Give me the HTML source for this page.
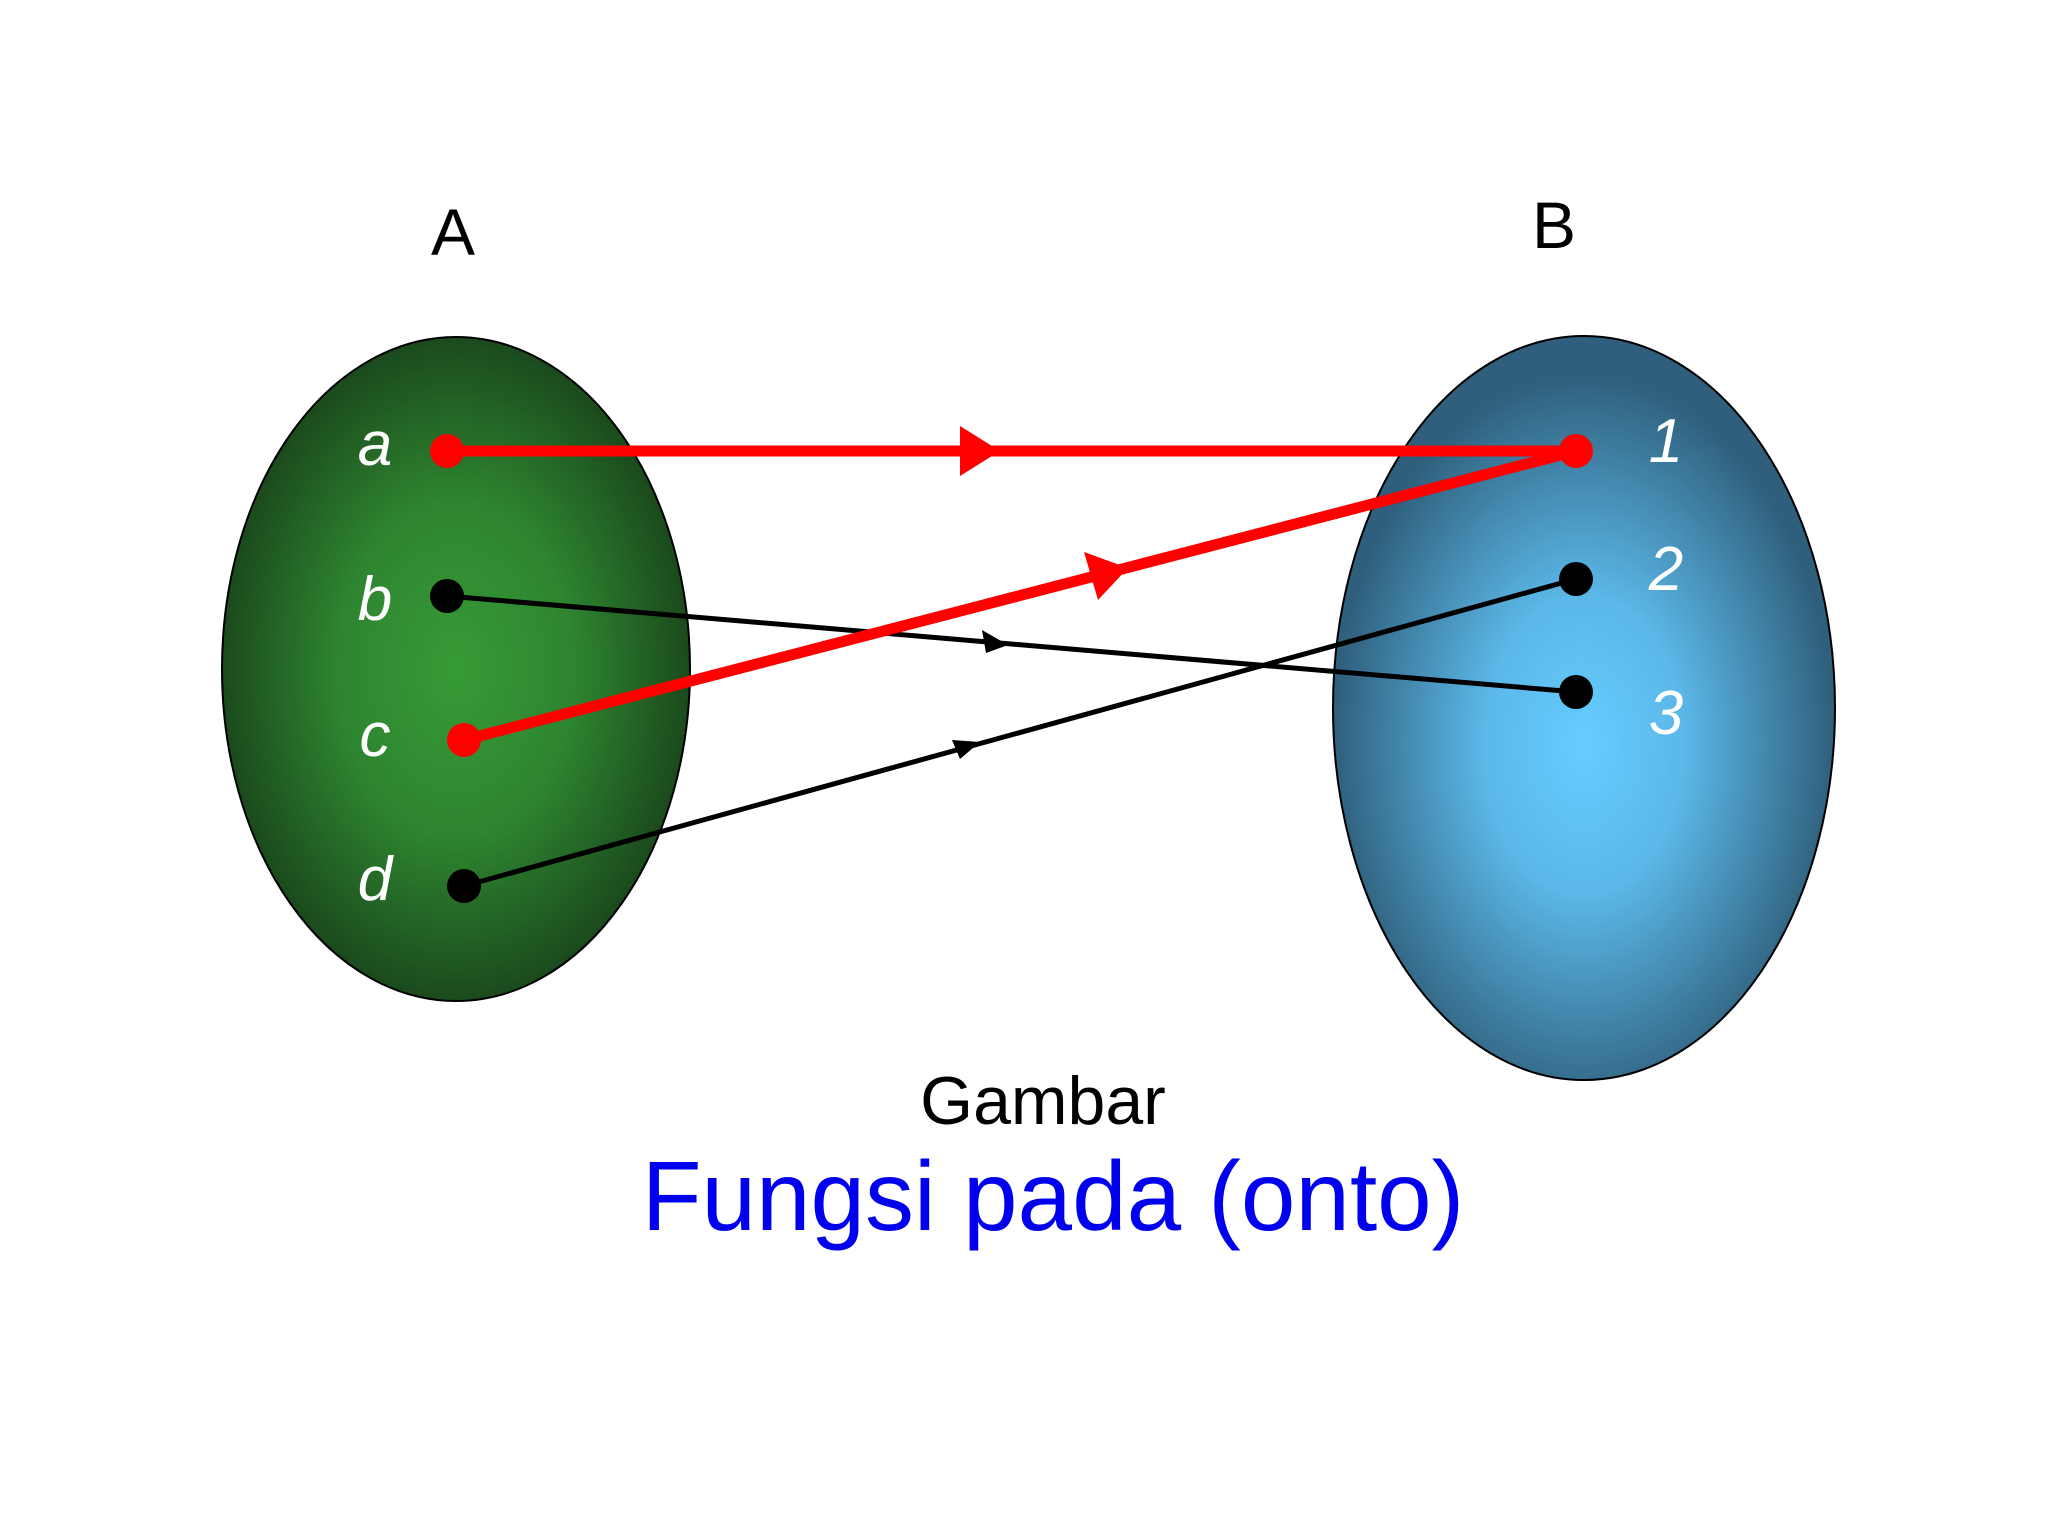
<!DOCTYPE html>
<html><head><meta charset="utf-8"><style>
html,body{margin:0;padding:0;background:#fff;}
svg{display:block;}
</style></head><body>
<svg width="2048" height="1536" viewBox="0 0 2048 1536" xmlns="http://www.w3.org/2000/svg" font-family="Liberation Sans, sans-serif">
<defs>
<radialGradient id="gA" cx="0.5" cy="0.5" r="0.5">
<stop offset="0" stop-color="#369b36"/><stop offset="0.5" stop-color="#2e8530"/><stop offset="1" stop-color="#1b4a1d"/>
</radialGradient>
<radialGradient id="gB" cx="0.5" cy="0.55" r="0.5">
<stop offset="0" stop-color="#66ccff"/><stop offset="0.4" stop-color="#5bb8e8"/><stop offset="1" stop-color="#2f5f7c"/>
</radialGradient>
</defs>
<ellipse cx="456" cy="669" rx="234" ry="332" fill="url(#gA)" stroke="#000" stroke-width="2"/>
<ellipse cx="1584" cy="708" rx="251" ry="372" fill="url(#gB)" stroke="#000" stroke-width="2"/>
<text x="453" y="255" font-size="66" text-anchor="middle">A</text>
<text x="1554" y="248" font-size="66" text-anchor="middle">B</text>
<g fill="#fff" font-size="62" font-style="italic" text-anchor="middle">
<text x="375" y="465">a</text><text x="375" y="620">b</text><text x="375" y="756">c</text><text x="375" y="900">d</text>
<text x="1666" y="462">1</text><text x="1666" y="590">2</text><text x="1666" y="734">3</text>
</g>
<!-- black lines -->
<line x1="447" y1="596" x2="1576" y2="692" stroke="#000" stroke-width="5"/>
<line x1="464" y1="886" x2="1576" y2="579" stroke="#000" stroke-width="5"/>
<polygon points="1008,645 982,630 986,653" fill="#000"/>
<polygon points="980,742 952,740 960,759" fill="#000"/>
<!-- red lines -->
<line x1="447" y1="451" x2="1576" y2="451" stroke="#f00" stroke-width="11"/>
<line x1="464" y1="740" x2="1576" y2="451" stroke="#f00" stroke-width="11"/>
<polygon points="1000,451 960,426 960,476" fill="#f00"/>
<polygon points="1128,568 1084,552 1098,600" fill="#f00"/>
<g fill="#000"><circle cx="447" cy="596" r="17"/><circle cx="464" cy="886" r="17"/><circle cx="1576" cy="579" r="17"/><circle cx="1576" cy="692" r="17"/></g>
<g fill="#f00"><circle cx="447" cy="451" r="17"/><circle cx="464" cy="740" r="17"/><circle cx="1576" cy="451" r="17"/></g>
<text x="1043" y="1124" font-size="68" text-anchor="middle">Gambar</text>
<text x="1053" y="1230" font-size="98" fill="#0000ee" text-anchor="middle">Fungsi pada (onto)</text>
</svg>
</body></html>
